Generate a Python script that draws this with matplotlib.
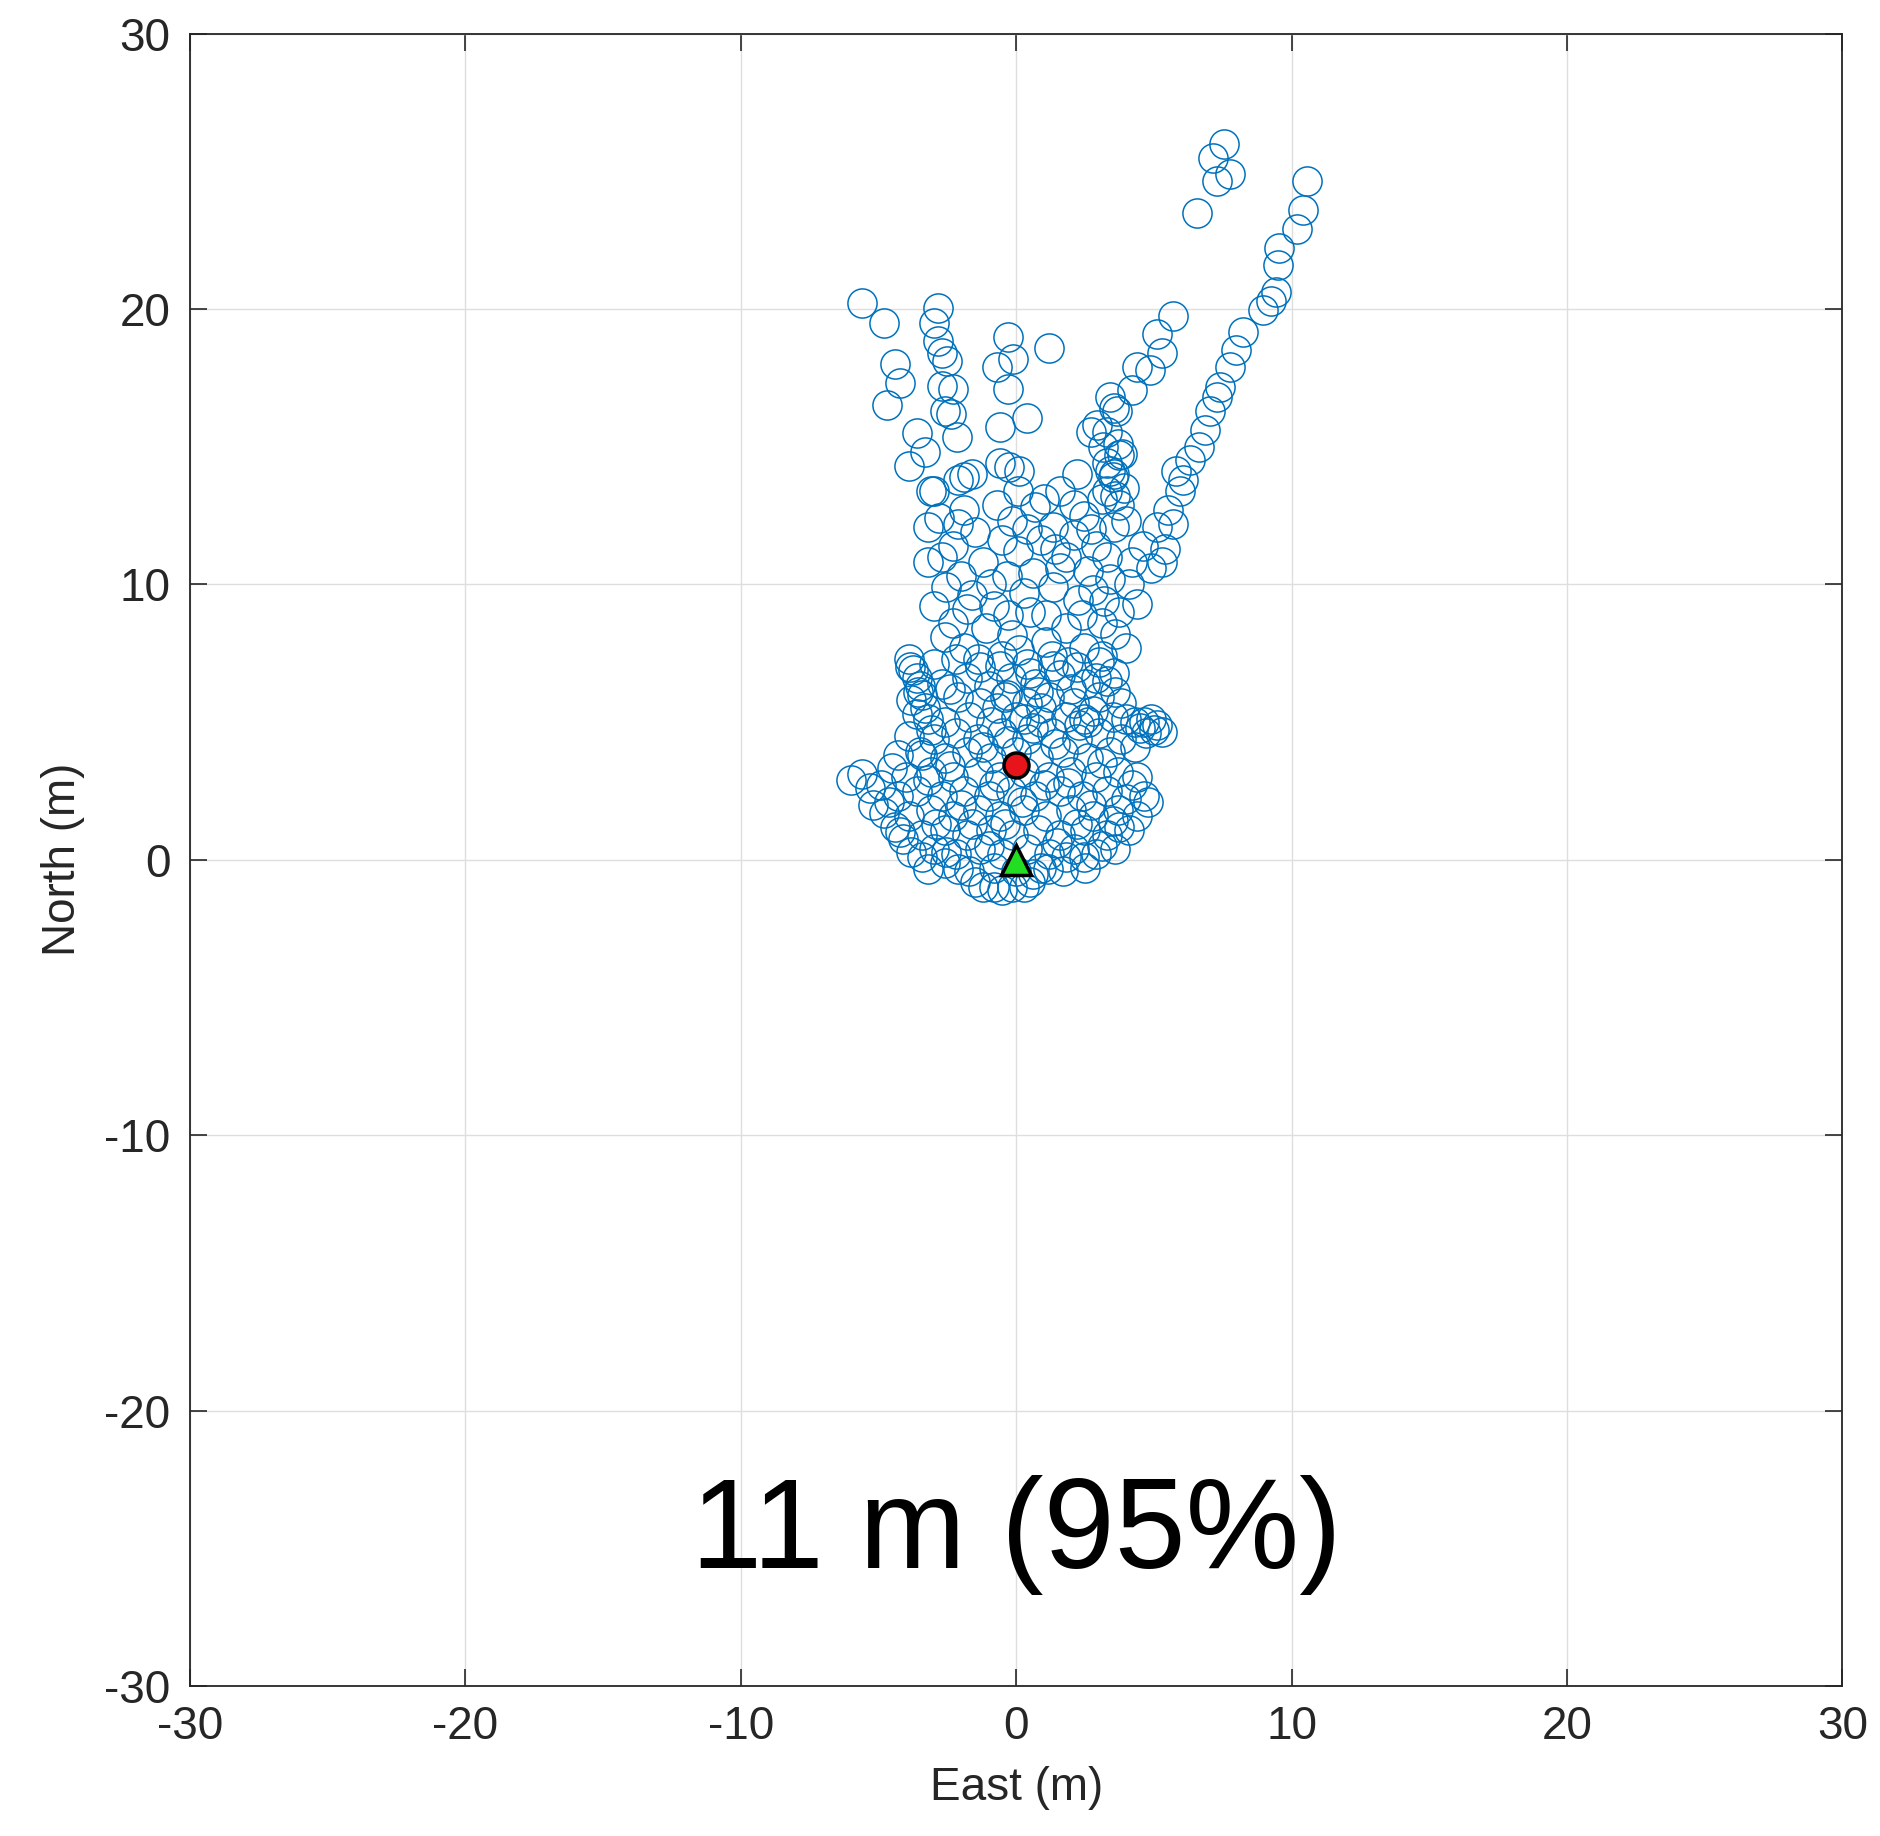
import matplotlib
matplotlib.use("Agg")
import matplotlib.pyplot as plt
import numpy as np

# position fixes, (east, north) in metres
upper_left = [(-5.6, 20.2), (-4.8, 19.5), (-4.4, 18.0), (-4.2, 17.3), (-4.7, 16.5),
              (-3.6, 15.5), (-3.3, 14.8), (-3.9, 14.3), (-3.1, 13.4), (-1.9, 13.9),
              (-1.6, 14.0)]
col_left = [(-2.85, 20.05), (-3.0, 19.5), (-2.85, 18.85), (-2.7, 18.4), (-2.5, 18.1),
            (-2.7, 17.2), (-2.3, 17.1), (-2.35, 16.2), (-2.6, 16.3), (-2.15, 15.35)]
col_mid = [(-0.3, 19.0), (-0.1, 18.2), (-0.7, 17.9), (-0.3, 17.1), (-0.6, 15.7),
           (0.4, 16.05), (-0.6, 14.4), (0.1, 14.1), (1.2, 18.6), (2.2, 14.0)]
top_right = [(7.55, 26.0), (7.15, 25.5), (7.75, 24.9), (7.3, 24.65), (6.55, 23.5)]
far_branch = [(10.55, 24.65), (10.4, 23.6), (10.2, 22.9), (9.55, 22.2), (9.5, 21.6),
              (9.45, 20.6), (9.25, 20.3), (8.95, 19.95), (8.25, 19.15), (8.0, 18.5),
              (7.75, 17.9), (7.4, 17.15), (7.3, 16.8), (7.05, 16.3), (6.85, 15.6),
              (6.65, 15.0), (6.3, 14.5), (6.05, 13.8), (5.8, 14.1), (5.95, 13.4),
              (5.5, 12.7), (5.1, 12.1), (4.6, 11.4), (4.2, 10.8), (5.3, 10.8),
              (5.7, 12.2), (5.4, 11.3), (4.9, 10.6)]
mid_branch = [(5.7, 19.75), (5.1, 19.1), (5.3, 18.4), (4.4, 17.9), (4.85, 17.8),
              (4.2, 17.05), (3.4, 16.8), (3.65, 16.3), (2.95, 15.8), (3.15, 15.0),
              (3.3, 14.4), (3.5, 13.9), (3.85, 14.75), (3.55, 16.4), (3.3, 15.55),
              (3.75, 14.7), (3.55, 14.0), (3.3, 13.4), (3.75, 12.9), (3.55, 12.1),
              (2.7, 15.55), (3.9, 13.5), (3.1, 13.1), (4.0, 12.3), (3.6, 13.2),
              (3.4, 14.1), (3.7, 15.1)]
middle = [(-3.0, 13.4), (-2.1, 13.8), (-1.9, 12.7), (-3.2, 12.1), (-2.3, 11.4),
          (-3.2, 10.8), (-2.55, 9.9), (-3.0, 9.2), (-2.3, 8.6), (-1.9, 7.7),
          (-1.5, 11.9), (-1.2, 10.8), (-1.6, 9.6), (-1.1, 8.4), (-2.7, 11.0),
          (-0.25, 14.25), (0.05, 13.4), (-0.15, 12.3), (0.05, 11.2), (-0.35, 10.3),
          (-0.8, 9.2), (0.5, 9.0), (-0.15, 8.15), (-0.6, 7.05), (0.5, 6.8),
          (-0.35, 6.0), (0.3, 5.1), (0.7, 12.8), (0.6, 10.4), (-0.7, 12.9),
          (1.35, 12.1), (1.8, 11.0), (2.45, 12.5), (2.9, 11.4), (1.35, 9.9),
          (2.25, 9.45), (1.8, 8.4), (2.45, 7.7), (1.35, 7.05), (2.0, 6.2),
          (2.45, 5.1), (3.1, 8.6), (3.75, 9.0), (4.0, 7.7), (3.55, 6.8),
          (1.0, 13.1), (1.6, 13.4), (2.6, 10.5), (3.4, 10.2), (1.1, 8.9),
          (3.1, 7.4), (2.8, 9.8), (4.4, 9.3), (2.1, 12.9), (0.9, 11.6),
          (-2.8, 12.4), (-2.0, 10.3), (-2.6, 8.1), (-1.4, 7.3), (-0.5, 11.6),
          (-0.9, 10.0), (0.3, 9.7), (-0.3, 8.9), (0.1, 7.6), (1.1, 7.9),
          (0.8, 6.1), (1.6, 10.6), (2.1, 11.8), (2.4, 8.9), (3.2, 9.4),
          (2.9, 6.6), (3.6, 8.2), (4.1, 10.0), (1.9, 7.2), (2.7, 12.0),
          (-1.8, 9.1), (-2.1, 12.2), (0.4, 12.0), (1.4, 11.3), (3.3, 11.0)]
left_arm = [(-3.9, 7.3), (-3.75, 6.9), (-3.6, 6.6), (-3.5, 6.3), (-3.4, 6.0),
            (-3.3, 5.5), (-3.2, 5.1), (-3.1, 4.7), (-3.0, 4.4), (-3.4, 3.8),
            (-3.85, 7.0), (-3.55, 6.1)]
lower_cluster = [
    (-3.0, 7.1), (-2.2, 7.3), (-1.3, 7.0), (-0.5, 7.4), (0.4, 7.1), (1.3, 7.4), (2.2, 7.0), (3.0, 7.2),
    (-2.7, 6.4), (-1.8, 6.6), (-1.0, 6.3), (-0.2, 6.6), (0.7, 6.4), (1.6, 6.7), (2.5, 6.4), (3.3, 6.5),
    (-3.8, 5.8), (-2.1, 5.9), (-1.3, 5.7), (-0.4, 5.9), (0.4, 5.7), (1.2, 5.9), (2.1, 5.7), (3.0, 5.9), (3.8, 5.7),
    (-2.6, 5.0), (-1.7, 5.2), (-0.9, 5.0), (0.0, 5.2), (0.9, 5.0), (1.8, 5.2), (2.6, 5.0), (3.5, 5.2),
    (4.3, 5.0), (4.9, 5.1), (4.0, 5.1), (4.65, 5.0), (5.1, 4.9), (5.3, 4.65), (4.5, 4.8), (5.0, 4.7),
    (-3.9, 4.5), (-2.2, 4.6), (-1.4, 4.4), (-0.5, 4.6), (0.4, 4.4), (1.3, 4.6), (2.2, 4.4),
    (3.0, 4.6), (3.8, 4.4), (4.7, 4.6),
    (-4.3, 3.8), (-3.5, 3.9), (-2.6, 3.7), (-1.8, 3.9), (-0.9, 3.7), (0.0, 3.9), (0.8, 3.7),
    (1.7, 3.9), (2.6, 3.7), (3.4, 3.9),
    (-6.0, 2.9), (-5.6, 3.1), (-4.9, 2.7), (-4.5, 3.35), (-4.0, 3.0), (-3.1, 3.2), (-2.3, 3.0),
    (-1.4, 3.2), (-0.6, 3.0), (0.3, 3.2), (1.2, 3.0), (2.0, 3.2), (2.9, 3.0), (3.7, 3.2), (4.4, 3.0),
    (-5.2, 2.0), (-4.3, 2.3), (-3.6, 2.5), (-2.7, 2.3), (-1.9, 2.5), (-1.0, 2.3), (-0.2, 2.5),
    (0.7, 2.3), (1.6, 2.5), (2.4, 2.3), (3.3, 2.5), (4.2, 2.7), (4.65, 2.3), (4.8, 2.1),
    (-4.8, 1.7), (-3.9, 1.6), (-3.1, 1.8), (-2.3, 1.6), (-1.4, 1.8), (-0.6, 1.6), (0.3, 1.8),
    (1.1, 1.6), (2.0, 1.8), (2.8, 1.6), (3.7, 1.8), (4.4, 1.6),
    (-4.2, 1.0), (-3.4, 0.9), (-2.6, 1.1), (-1.8, 0.9), (-0.9, 1.1), (-0.1, 0.9), (0.8, 1.1),
    (1.6, 0.9), (2.5, 1.1), (3.3, 0.9), (4.1, 1.1), (3.75, 1.2),
    (-4.1, 0.75), (-3.8, 0.3), (-3.0, 0.4), (-2.2, 0.2), (-1.3, 0.4), (-0.5, 0.2), (0.4, 0.4),
    (1.2, 0.2), (2.1, 0.4), (2.9, 0.2), (3.1, 0.5), (3.6, 0.4),
    (-3.4, 0.1), (-3.2, -0.35), (-2.55, 0.3), (-2.1, -0.35), (-1.7, -0.4), (-0.8, -0.3),
    (0.0, -0.4), (0.9, -0.3), (1.15, -0.35), (1.7, -0.4), (1.8, 0.1), (2.45, 0.1), (2.5, -0.3),
    (-1.5, -0.8), (-1.2, -1.0), (-0.8, -1.0), (-0.5, -1.1), (-0.15, -1.0), (0.3, -1.0), (0.5, -0.8),
    (-5.3, 2.6), (-4.6, 2.1), (-4.4, 1.2), (-3.2, 2.9), (-2.9, 1.3), (-2.4, 3.4), (-2.0, 2.0),
    (-1.6, 1.3), (-1.2, 4.1), (-0.8, 2.7), (-0.3, 4.3), (0.2, 2.1), (0.6, 4.8), (1.0, 2.7),
    (1.4, 4.2), (1.9, 2.8), (2.3, 4.9), (2.7, 2.0), (3.1, 3.5), (3.5, 1.4), (4.0, 2.2),
    (4.3, 4.1), (-3.6, 5.3), (-2.4, 6.2), (-0.7, 5.5), (0.9, 5.5), (2.8, 5.4), (3.6, 6.1),
    (-1.0, 0.5), (0.6, -0.5), (1.5, 0.6), (-2.6, -0.1), (2.2, 1.3), (-0.4, 1.3),
]

groups = (upper_left, col_left, col_mid, top_right, far_branch,
          mid_branch, middle, left_arm, lower_cluster)
east_m = np.array([p[0] for grp in groups for p in grp])
north_m = np.array([p[1] for grp in groups for p in grp])

mean_pos = (0.0, 3.45)
truth_pos = (0.0, 0.0)
accuracy_label = "11 m (95%)"

plt.rcParams['font.family'] = ['Liberation Sans', 'DejaVu Sans']
plt.rcParams['axes.unicode_minus'] = False

fig = plt.figure(figsize=(18.8, 18.36), dpi=100)
ax = fig.add_axes([0.101, 0.0817, 0.879, 0.900])

ax.plot(east_m, north_m, 'o', markersize=21, markerfacecolor='none',
        markeredgecolor='#0072BD', markeredgewidth=1.1, linestyle='none')
ax.plot(*mean_pos, 'o', markersize=18, markerfacecolor='#e8141b',
        markeredgecolor='black', markeredgewidth=2.5)
ax.plot(*truth_pos, '^', markersize=21, markerfacecolor='#22dd22',
        markeredgecolor='black', markeredgewidth=2.5)

ax.text(0, -24.5, accuracy_label, fontsize=92, ha='center', va='center', color='black')

ax.set_xlim(-30, 30)
ax.set_ylim(-30, 30)
ax.set_xticks(np.arange(-30, 31, 10))
ax.set_yticks(np.arange(-30, 31, 10))
ax.grid(True, color='#dedede', linewidth=1.0)
ax.set_axisbelow(True)
ax.tick_params(direction='in', length=12, width=1.2, top=True, right=True,
               labelsize=33, colors='#262626', pad=14)
for s in ax.spines.values():
    s.set_color('#262626')
    s.set_linewidth(1.3)

ax.set_xlabel('East (m)', fontsize=33, color='#262626', labelpad=12)
ax.set_ylabel('North (m)', fontsize=33, color='#262626', labelpad=14)

fig.savefig('out.png', dpi=100)
